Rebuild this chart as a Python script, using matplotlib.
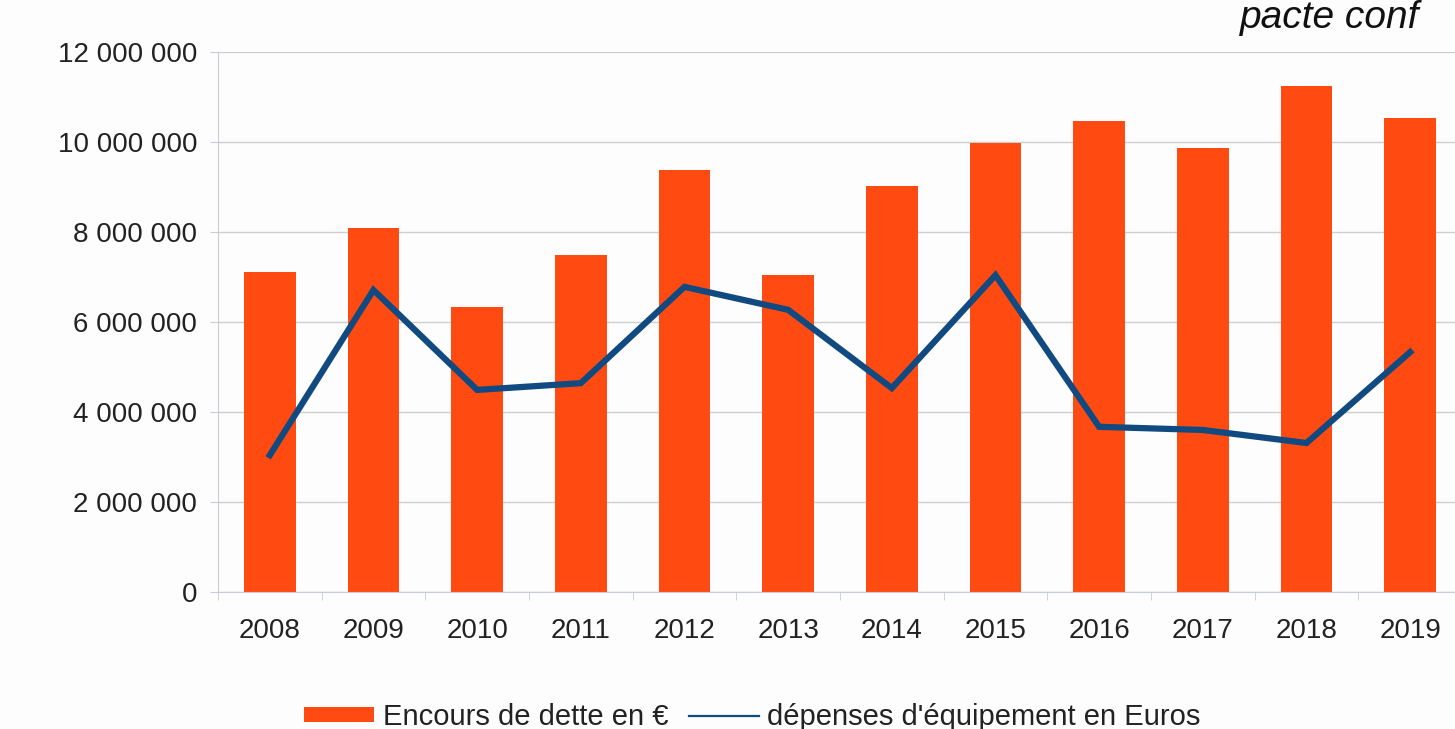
import numpy as np
import matplotlib.pyplot as plt
from matplotlib.ticker import FuncFormatter, FixedLocator
from matplotlib.patches import Patch
from matplotlib.lines import Line2D

plt.rcParams['font.family'] = ['Liberation Sans', 'DejaVu Sans']

# data
annees = ['2008', '2009', '2010', '2011', '2012', '2013',
          '2014', '2015', '2016', '2017', '2018', '2019']
encours = [7110000, 8090000, 6330000, 7490000, 9380000, 7040000,
           9020000, 9980000, 10470000, 9870000, 11240000, 10530000]
depenses = [3040000, 6710000, 4490000, 4640000, 6780000, 6270000,
            4530000, 7040000, 3670000, 3600000, 3310000, 5330000]

col_bar = '#ff4a12'
col_line = '#104a80'

fig = plt.figure(figsize=(14.55, 7.29), dpi=100)
fig.patch.set_facecolor('#fdfdfd')
ax = fig.add_axes([0.1498, 0.188, 0.855, 0.7407])
ax.set_facecolor('#fdfdfd')

x = np.arange(len(annees))
ax.bar(x, encours, width=0.5, color=col_bar, zorder=2)
ax.plot(x, depenses, color=col_line, lw=4.5, zorder=3, solid_joinstyle='miter')

ax.set_xlim(-0.5, len(annees) - 0.5)
ax.set_ylim(0, 12000000)
ax.set_yticks(np.arange(0, 12000001, 2000000))
ax.yaxis.set_major_formatter(FuncFormatter(lambda v, p: f"{int(v):,}".replace(',', ' ')))
ax.grid(axis='y', color='#cfcfcf', lw=1, zorder=0)

ax.set_xticks(x)
ax.set_xticklabels(annees)
ax.xaxis.set_minor_locator(FixedLocator(np.arange(-0.5, len(annees), 1)))
ax.tick_params(axis='x', which='major', length=0, pad=19, labelsize=20, colors='#222222')
ax.tick_params(axis='x', which='minor', length=6, color='#c8ccd4')
ax.tick_params(axis='y', length=6, color='#c8ccd4', pad=9, labelsize=20, labelcolor='#222222')

for s in ['top', 'right']:
    ax.spines[s].set_visible(False)
ax.spines['left'].set_color('#c8ccd4')
ax.spines['bottom'].set_color('#c8ccd4')

handles = [Patch(facecolor=col_bar, edgecolor='none'),
           Line2D([0], [0], color=col_line, lw=1.6)]
labels = ['Encours de dette en €', "dépenses d'équipement en Euros"]
fig.legend(handles, labels, loc='center', bbox_to_anchor=(0.517, 0.0165), ncol=2,
           frameon=False, fontsize=21, handlelength=2.4, handleheight=0.45,
           columnspacing=0.7, handletextpad=0.28, labelcolor='#222222')

fig.text(0.852, 0.962, 'pacte conf', fontsize=28, style='italic',
         ha='left', va='baseline', color='#111111')

fig.savefig('out.png', dpi=100, facecolor=fig.get_facecolor())
